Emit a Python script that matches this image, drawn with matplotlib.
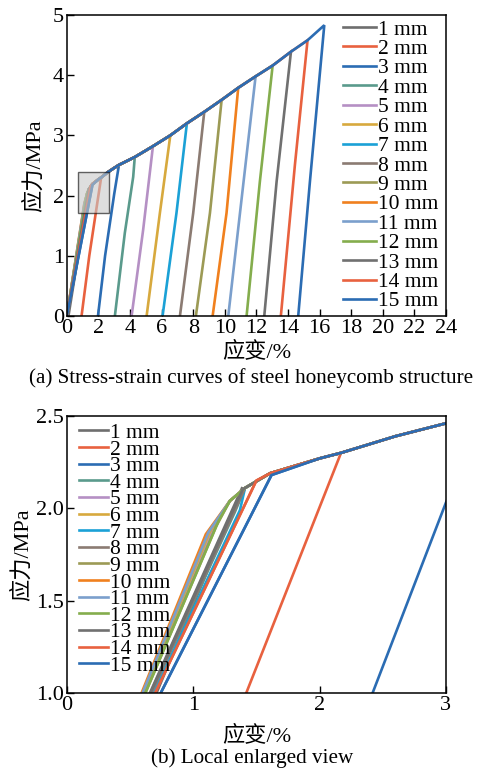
import matplotlib
matplotlib.use("Agg")
import matplotlib.pyplot as plt
from matplotlib.patches import Rectangle

plt.rcParams['font.family'] = ['Liberation Serif', 'Noto Sans CJK SC']
plt.rcParams['axes.unicode_minus'] = False

labels = ["1 mm", "2 mm", "3 mm", "4 mm", "5 mm", "6 mm", "7 mm", "8 mm",
          "9 mm", "10 mm", "11 mm", "12 mm", "13 mm", "14 mm", "15 mm"]
colors = ["#6e6e6e", "#e8613f", "#2b6cb3", "#5a9a8c", "#b590c4", "#d7a93e",
          "#1ba1d6", "#8b7b72", "#9c9a55", "#f0801e", "#7b9fcc", "#84ad4d",
          "#707070", "#e8613f", "#2b6cb3"]

# shared hardening envelope (strain %, stress MPa)
env_x = [1.29, 1.41, 1.61, 2.00, 2.17, 2.60, 3.00, 3.30, 4.30, 5.45, 6.55,
         7.60, 8.70, 9.80, 10.85, 11.95, 13.03, 14.19, 15.24, 16.30]
env_y = [2.04, 2.11, 2.19, 2.27, 2.30, 2.39, 2.46, 2.51, 2.64, 2.82, 3.00,
         3.20, 3.39, 3.59, 3.79, 3.98, 4.16, 4.39, 4.58, 4.83]

# end of the linear loading part of each curve
knee_x = [1.39, 1.50, 1.62, 1.33, 1.15, 1.13, 1.37, 1.35, 1.18, 1.10, 1.12,
          1.20, 1.39, 1.50, 1.62]
knee_y = [2.115, 2.15, 2.18, 1.98, 1.88, 1.87, 1.99, 2.02, 1.90, 1.86, 1.87,
          1.93, 2.10, 2.15, 2.18]

# strain where unloading starts (a point of the envelope, curve 1 unloads at its knee)
unload_at = [1.39, 2.17, 3.30, 4.30, 5.45, 6.55, 7.60, 8.70, 9.80, 10.85,
             11.95, 13.03, 14.19, 15.24, 16.30]

# unloading branch below the start point, top to bottom
unload_x = [[0.10], [1.42, 0.93], [3.00, 2.42, 1.97], [4.20, 3.67, 3.04],
            [4.83, 4.10], [5.89, 5.05], [6.94, 6.06], [8.00, 7.16],
            [9.06, 8.17], [10.11, 9.23], [10.91, 10.22], [12.22, 11.38],
            [13.28, 12.50], [14.44, 13.55], [15.39, 14.65]]
unload_y = [[0.0], [1.00, 0.0], [2.03, 1.00, 0.0], [2.31, 1.38, 0.0],
            [1.43, 0.0], [1.71, 0.0], [1.71, 0.0], [1.71, 0.0],
            [1.71, 0.0], [1.71, 0.0], [1.59, 0.0], [2.23, 0.0],
            [2.23, 0.0], [2.51, 0.0], [2.23, 0.0]]


def curve(i):
    xs, ys = [0.0, knee_x[i]], [0.0, knee_y[i]]
    for ex, ey in zip(env_x, env_y):
        if knee_x[i] < ex <= unload_at[i] + 1e-9:
            xs.append(ex)
            ys.append(ey)
    return xs + unload_x[i], ys + unload_y[i]


fig = plt.figure(figsize=(4.81, 7.68), dpi=100)
ax1 = fig.add_axes([0.139, 0.5885, 0.788, 0.392])
ax2 = fig.add_axes([0.139, 0.0977, 0.788, 0.3607])

for ax in (ax1, ax2):
    for i in range(len(labels)):
        x, y = curve(i)
        ax.plot(x, y, color=colors[i], lw=1.9, label=labels[i],
                solid_joinstyle='miter')
    for s in ax.spines.values():
        s.set_linewidth(1.1)
    ax.tick_params(direction='in', length=5, width=1.0, labelsize=16,
                   top=False, right=False, pad=2)

ax1.add_patch(Rectangle((0.7, 1.71), 1.96, 0.68, facecolor='#c8c8c8',
                        alpha=0.6, edgecolor='black', lw=1.0, zorder=5))

ax1.set_xlim(0, 24)
ax1.set_ylim(0, 5)
ax1.set_xticks(range(0, 25, 2))
ax1.set_yticks(range(0, 6))
ax1.set_xlabel("应变/%", fontsize=16)
ax1.set_ylabel("应力/MPa", fontsize=16)
ax1.xaxis.set_label_coords(0.5, -0.085)
ax1.yaxis.set_label_coords(-0.058, 0.5)
ax1.legend(loc='upper left', bbox_to_anchor=(0.728, 0.985), frameon=False,
           fontsize=15.5, handlelength=1.55, handletextpad=0.1,
           labelspacing=-0.03, borderpad=0, borderaxespad=0)

ax2.set_xlim(0, 3)
ax2.set_ylim(1.0, 2.5)
ax2.set_xticks([0, 1, 2, 3])
ax2.set_yticks([1.0, 1.5, 2.0, 2.5])
ax2.set_yticklabels(["1.0", "1.5", "2.0", "2.5"])
ax2.set_xlabel("应变/%", fontsize=16)
ax2.set_ylabel("应力/MPa", fontsize=16)
ax2.xaxis.set_label_coords(0.5, -0.115)
ax2.yaxis.set_label_coords(-0.09, 0.5)
ax2.legend(loc='upper left', bbox_to_anchor=(0.032, 0.975), frameon=False,
           fontsize=15.5, handlelength=1.35, handletextpad=0.1,
           labelspacing=-0.16, borderpad=0, borderaxespad=0)

fig.text(0.522, 0.508, "(a) Stress-strain curves of steel honeycomb structure",
         ha='center', va='center', fontsize=15.2)
fig.text(0.524, 0.013, "(b) Local enlarged view", ha='center', va='center',
         fontsize=15.2)

fig.savefig("out.png", dpi=100)
